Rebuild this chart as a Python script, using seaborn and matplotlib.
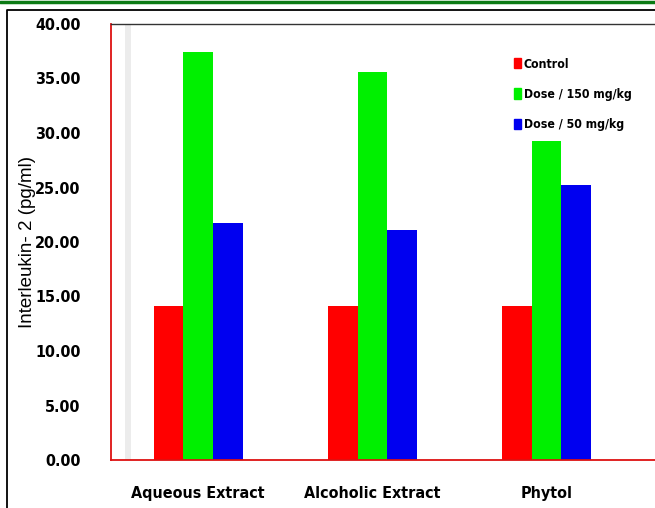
import matplotlib.pyplot as plt
import matplotlib.patches as mpatches
import matplotlib.lines as mlines
from matplotlib import font_manager
import seaborn as sns
import pandas as pd

# --- Data ---
groups = ["Aqueous Extract", "Alcoholic Extract", "Phytol"]
doses = ["Control", "Dose / 150 mg/kg", "Dose / 50 mg/kg"]
control = [14.1, 14.1, 14.1]
dose_150 = [37.4, 35.6, 29.3]
dose_50 = [21.7, 21.1, 25.2]
yticks = [0, 5, 10, 15, 20, 25, 30, 35, 40]

rows = []
for i, g in enumerate(groups):
    rows.append([g, doses[0], control[i]])
    rows.append([g, doses[1], dose_150[i]])
    rows.append([g, doses[2], dose_50[i]])
df = pd.DataFrame(rows, columns=["Group", "Dose", "Value"])

palette = {"Control": "#ff0000", "Dose / 150 mg/kg": "#00f000", "Dose / 50 mg/kg": "#0000f0"}

sns.set_style("white")
plt.rcParams["font.family"] = ["Liberation Sans", "DejaVu Sans"]
plt.rcParams["text.color"] = "black"
plt.rcParams["axes.labelcolor"] = "black"
narrow = dict(family="DejaVu Sans", fontstretch="condensed", fontweight="bold")

fig = plt.figure(figsize=(6.55, 5.08), dpi=100)
ax = fig.add_axes([111 / 655, 1 - 460 / 508, 1 - 111 / 655 + 0.01, 436 / 508])

# faint wall shading near the y axis
ax.add_patch(mpatches.Rectangle((0.025, 0), 0.012, 1, transform=ax.transAxes,
                                color="#ececec", lw=0, zorder=0))

sns.barplot(data=df, x="Group", y="Value", hue="Dose", palette=palette,
            width=0.51, gap=0, saturation=1, edgecolor="none", ax=ax, zorder=2)

ax.set_xlim(-0.5, 2.66)
ax.set_ylim(0, 40)
ax.set_yticks(yticks)
ax.set_yticklabels([f"{v:.2f}" for v in yticks], fontsize=11.5, **narrow)
ax.set_xticks(range(len(groups)))
ax.set_xticklabels(groups, fontsize=11.5, **narrow)
ax.set_xlabel("")
ax.set_ylabel("Interleukin- 2 (pg/ml)", fontsize=13.5, color="black")
ax.yaxis.set_label_coords(-0.137, 0.5)

for side in ["left", "bottom"]:
    ax.spines[side].set_color("#dd1111")
    ax.spines[side].set_linewidth(1.3)
ax.spines["top"].set_color("#333333")
ax.spines["top"].set_linewidth(1.0)
ax.spines["right"].set_visible(False)
ax.tick_params(axis="y", colors="#dd1111", length=4, width=1.2, direction="out",
               labelcolor="black", pad=18)
ax.tick_params(axis="x", colors="#dd1111", length=4, width=1.2, direction="out",
               labelcolor="black", pad=15)

handles = [mpatches.Patch(color=palette[d]) for d in doses]
leg = ax.legend(handles, doses, loc="upper left", bbox_to_anchor=(0.72, 0.937),
                frameon=False, handlelength=0.6, handleheight=0.9, handletextpad=0.25,
                labelspacing=1.4, borderpad=0, labelcolor="black",
                prop=font_manager.FontProperties(family="DejaVu Sans", stretch="condensed",
                                                 weight="bold", size=8.8))

# page decoration: green rule and black frame
fig.add_artist(mlines.Line2D([0, 1], [1 - 1.5 / 508, 1 - 1.5 / 508], color="#0b7a14", lw=2.5,
                             transform=fig.transFigure))
fig.add_artist(mlines.Line2D([6.5 / 655, 6.5 / 655, 1], [0, 1 - 10 / 508, 1 - 10 / 508],
                             color="black", lw=1.3, transform=fig.transFigure))

fig.savefig("out.png", dpi=100)
